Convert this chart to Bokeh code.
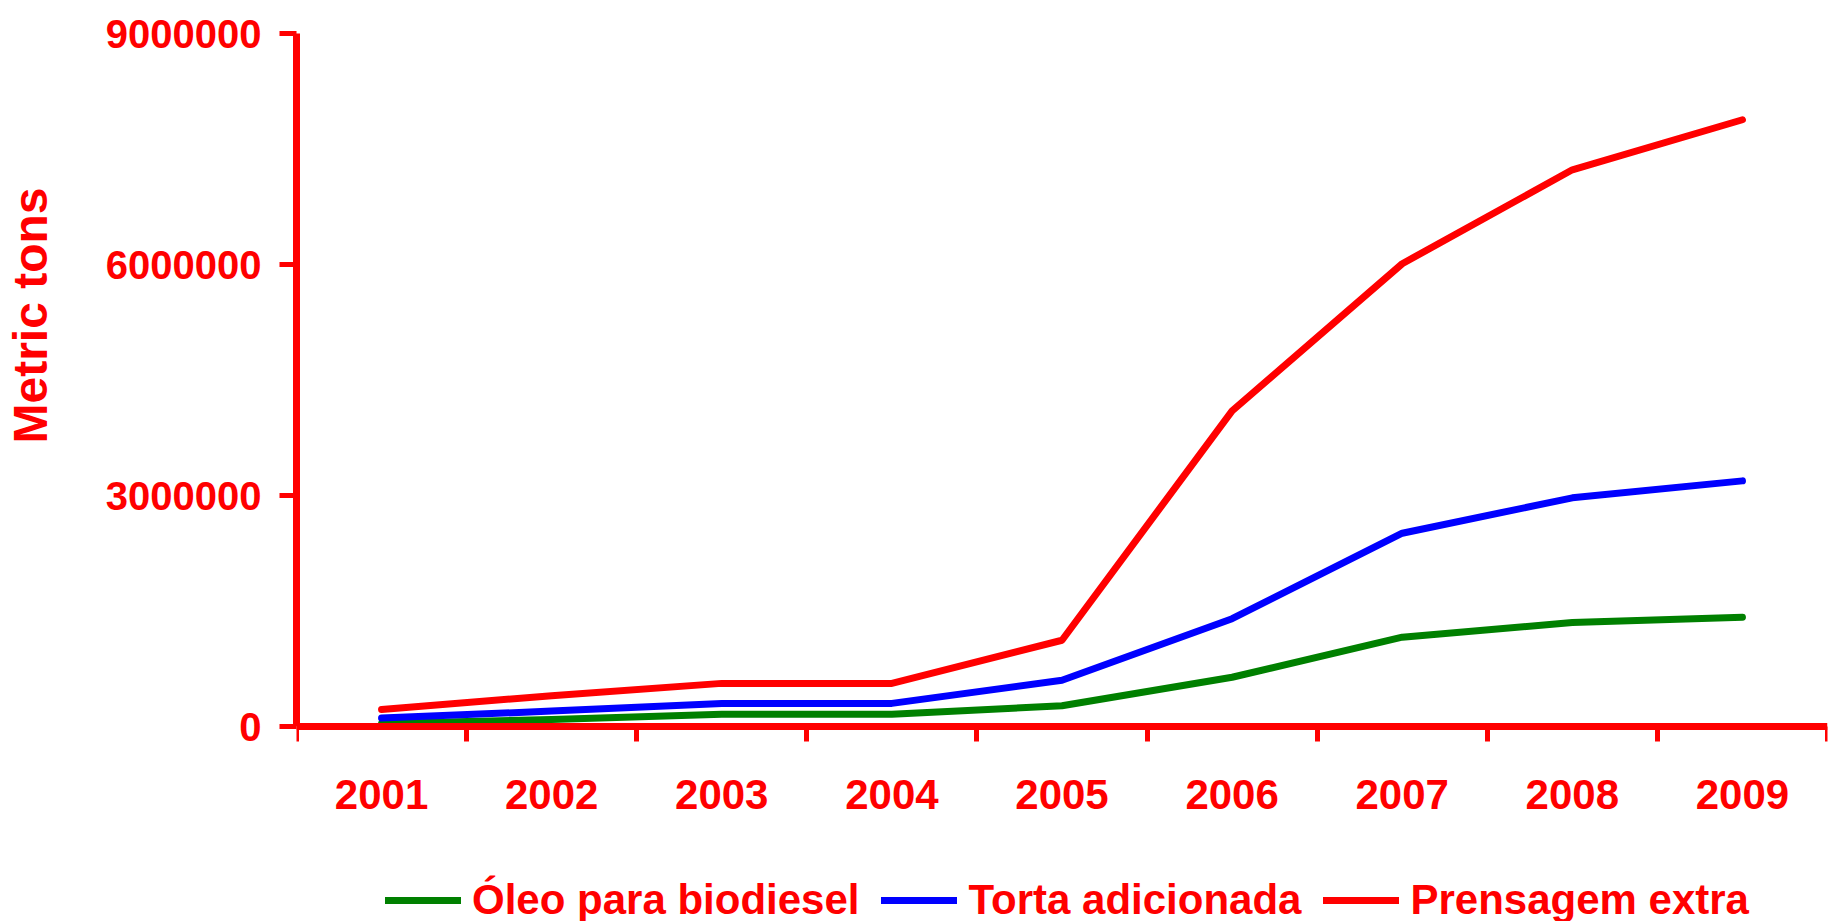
from bokeh.plotting import figure
from bokeh.models import FixedTicker, NumeralTickFormatter, Legend, LegendItem, Range1d, Title
from bokeh.embed import file_html
from bokeh.resources import INLINE

years = [2001, 2002, 2003, 2004, 2005, 2006, 2007, 2008, 2009]
oleo_biodiesel = [40000, 90000, 160000, 160000, 270000, 640000, 1160000, 1350000, 1420000]
torta_adicionada = [110000, 200000, 300000, 300000, 600000, 1400000, 2510000, 2970000, 3190000]
prensagem_extra = [220000, 400000, 560000, 560000, 1120000, 4100000, 6010000, 7230000, 7880000]
y_ticks = [0, 3000000, 6000000, 9000000]
series_names = ["Óleo para biodiesel", "Torta adicionada", "Prensagem extra"]
series_colors = ["#008000", "#0000FF", "#FF0000"]

RED = "#FF0000"

# layout (pixels)
TOP = 33          # space above the plotting area
AXIS_PX = 693     # height of the 0..9M value span
FRAME_H = 900     # frame extends below the x axis to hold the legend
y_max = y_ticks[-1]
y_min = -y_max * (FRAME_H - AXIS_PX) / AXIS_PX

p = figure(frame_width=1531, frame_height=FRAME_H,
           x_range=Range1d(years[0] - 0.5, years[-1] + 0.5),
           y_range=Range1d(y_min, y_max),
           output_backend="svg", toolbar_location=None,
           min_border_left=296, min_border_right=2, min_border_top=TOP, min_border_bottom=0)
p.outline_line_color = None
p.grid.visible = False
p.background_fill_color = "white"
p.border_fill_color = "white"

renderers = []
for vals, color in zip([oleo_biodiesel, torta_adicionada, prensagem_extra], series_colors):
    r = p.line(years, vals, line_color=color, line_width=7, line_cap="round", line_join="round")
    renderers.append(r)

# x axis, drawn at value 0
xa = p.xaxis[0]
xa.fixed_location = 0
xa.ticker = FixedTicker(ticks=years, minor_ticks=[y - 0.5 for y in years] + [years[-1] + 0.5])
xa.axis_line_color = RED
xa.axis_line_width = 7
xa.major_tick_out = 0
xa.major_tick_in = 0
xa.minor_tick_out = 15
xa.minor_tick_in = 0
xa.minor_tick_line_color = RED
xa.minor_tick_line_width = 5
xa.major_label_standoff = 38
xa.major_label_text_color = RED
xa.major_label_text_font = "Liberation Sans"
xa.major_label_text_font_style = "bold"
xa.major_label_text_font_size = "42px"

# y axis
ya = p.yaxis[0]
ya.bounds = (y_ticks[0], y_ticks[-1])
ya.ticker = FixedTicker(ticks=y_ticks, minor_ticks=[])
ya.formatter = NumeralTickFormatter(format="0")
ya.axis_line_color = RED
ya.axis_line_width = 7
ya.major_tick_out = 17
ya.major_tick_in = 0
ya.major_tick_line_color = RED
ya.major_tick_line_width = 5
ya.minor_tick_out = 0
ya.minor_tick_in = 0
ya.major_label_standoff = 18
ya.major_label_text_color = RED
ya.major_label_text_font = "Liberation Sans"
ya.major_label_text_font_style = "bold"
ya.major_label_text_font_size = "40px"

# blank gap between tick labels and axis title
gap = Title(text=" ", standoff=33, text_font_size="10px")
p.add_layout(gap, "left")

t = Title(text="Metric tons", align="left", offset=FRAME_H - 410, standoff=0,
          text_font_size="48px", text_font="Liberation Sans", text_font_style="bold",
          text_color=RED)
p.add_layout(t, "left")

legend = Legend(items=[LegendItem(label=n, renderers=[r]) for n, r in zip(series_names, renderers)],
                orientation="horizontal", location=(89, 9),
                label_text_font="Liberation Sans", label_text_font_style="bold",
                label_text_font_size="42px", label_text_color=RED,
                glyph_width=76, glyph_height=40, label_standoff=11, spacing=22,
                padding=0, margin=0, border_line_color=None, background_fill_alpha=0)
p.add_layout(legend, "center")

html = file_html(p, INLINE)
html = html.replace("<body>", '<body style="overflow:hidden">')
open("out.html", "w").write(html)
